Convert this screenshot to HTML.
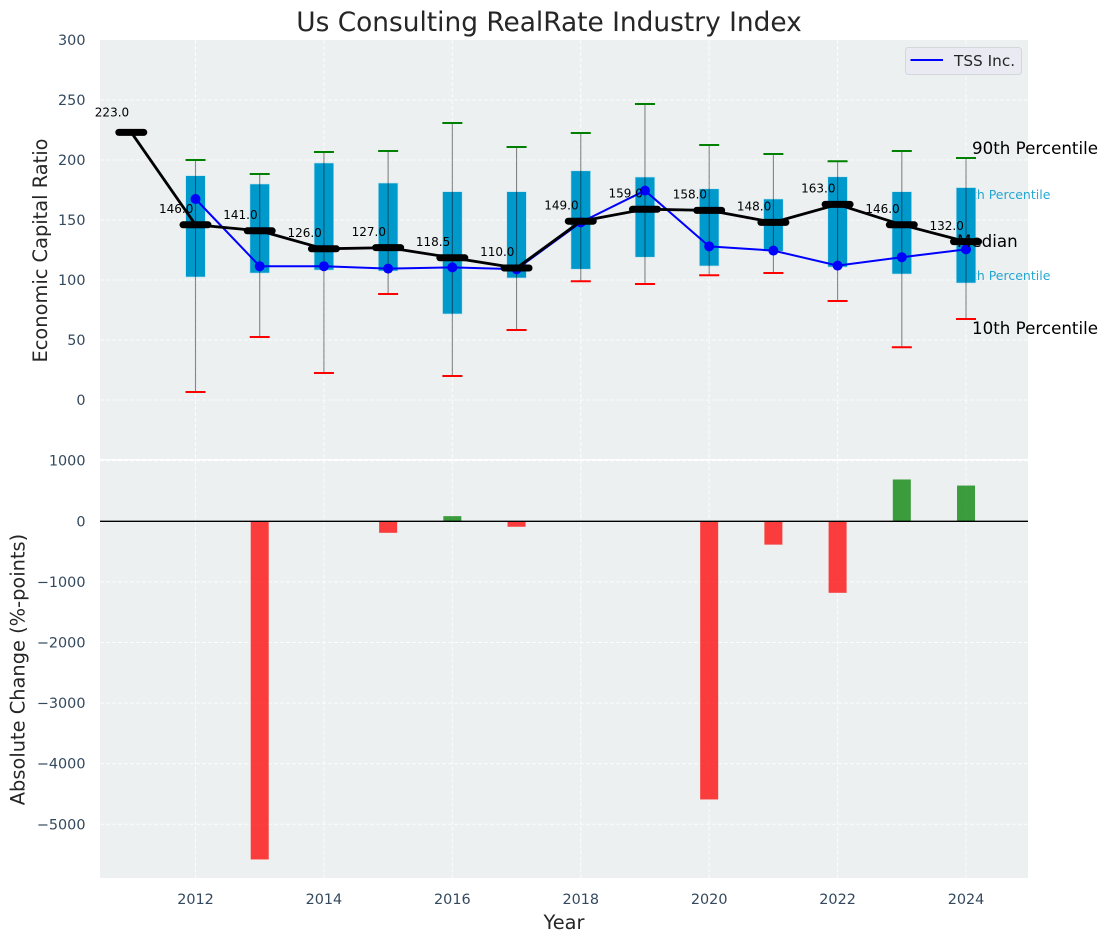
<!DOCTYPE html>
<html>
<head>
<meta charset="utf-8">
<title>Us Consulting RealRate Industry Index</title>
<style>
html,body{margin:0;padding:0;background:#fff;}
svg{display:block;font-family:"DejaVu Sans","Liberation Sans",sans-serif;}
</style>
</head>
<body>
<svg id="chart" width="1107" height="942" viewBox="0 0 1107 942" xmlns="http://www.w3.org/2000/svg">
<rect x="100" y="40" width="928" height="419" fill="#ecf0f1"/>
<rect x="100" y="460.5" width="928" height="417.5" fill="#ecf0f1"/>
<g id="layer"></g>
<text x="549" y="31" text-anchor="middle" font-size="26.4" fill="#262626">Us Consulting RealRate Industry Index</text>
<text transform="translate(47,250.5) rotate(-90)" text-anchor="middle" font-size="19.4" fill="#262626">Economic Capital Ratio</text>
<text transform="translate(24.5,669.5) rotate(-90)" text-anchor="middle" font-size="19.4" fill="#262626">Absolute Change (%-points)</text>
<text x="564" y="929" text-anchor="middle" font-size="19.4" fill="#262626">Year</text>
<g>
<rect x="905.5" y="47.5" width="116" height="27" rx="3" fill="#eaeaf2" stroke="#d5d5dc" stroke-width="1"/>
<line x1="910.5" x2="943" y1="60" y2="60" stroke="#0000ff" stroke-width="2"/>
<text x="954" y="66" font-size="15.3" fill="#262626">TSS Inc.</text>
</g>
</svg>
<script>
const years = [2012,2013,2014,2015,2016,2017,2018,2019,2020,2021,2022,2023,2024];
const p10 = [6.7,52.5,22.5,88.3,20,58.3,99,96.7,104,105.8,82.5,44,67.5];
const p25 = [102.5,105.8,108.3,107.5,71.7,101.7,109,119,111.7,124,110.8,105,97.5];
const p75 = [186.9,180,197.5,180.8,173.6,173.6,191,185.8,176,167.5,186,173.6,177];
const p90 = [200,188.3,206.7,207.5,230.8,210.8,222.5,246.7,212.5,205,199,207.5,201.7];
const medianYears = [2011,2012,2013,2014,2015,2016,2017,2018,2019,2020,2021,2022,2023,2024];
const medians = [223,146,141,126,127,118.5,110,149,159,158,148,163,146,132];
const medianLabels = ["223.0","146.0","141.0","126.0","127.0","118.5","110.0","149.0","159.0","158.0","148.0","163.0","146.0","132.0"];
const tss = [167.5,111.5,111.5,109.5,110.5,109,148,174.5,128,124.5,112,119,125.5];
const changes = [0,-5580,0,-190,85,-90,0,0,-4590,-385,-1180,690,590];
const xTicks = [2012,2014,2016,2018,2020,2022,2024];
const upperTicks = [0,50,100,150,200,250,300];
const lowerTicks = [-5000,-4000,-3000,-2000,-1000,0,1000];
const lowerTickLabels = ["\u22125000","\u22124000","\u22123000","\u22122000","\u22121000","0","1000"];

const NS = 'http://www.w3.org/2000/svg';
const layer = document.getElementById('layer');
const xScale = v => 195.5 + (v - 2012) * 64.21;
const yUpper = v => 400 - v * 1.2;
const yLower = v => 521.3 - v * 0.0606;

function make(tag, attrs, text) {
  const el = document.createElementNS(NS, tag);
  for (const k in attrs) el.setAttribute(k, attrs[k]);
  if (text !== undefined) el.textContent = text;
  layer.appendChild(el);
  return el;
}
const tickColor = '#34495e';

// grid and tick labels
xTicks.forEach(t => {
  const x = xScale(t);
  const a = make('line', {x1:x, x2:x, y1:40, y2:459, stroke:'#fff', 'stroke-width':1, 'stroke-dasharray':'4 2', opacity:0.85});
  
  
  const b = make('line', {x1:x, x2:x, y1:460.5, y2:878, stroke:'#fff', 'stroke-width':1, 'stroke-dasharray':'4 2', opacity:0.85});
  
  
  const l = make('text', {x:x, y:904, 'text-anchor':'middle', 'font-size':14.4, fill:tickColor}, String(t));
  
  
});
upperTicks.forEach(t => {
  const y = yUpper(t);
  if (t < 300) {
    const g = make('line', {x1:100, x2:1028, y1:y, y2:y, stroke:'#fff', 'stroke-width':1, 'stroke-dasharray':'4 2', opacity:0.85});
    
    
  }
  const l = make('text', {x:85.5, y:y + 5, 'text-anchor':'end', 'font-size':14.4, fill:tickColor}, String(t));
  
  
});
lowerTicks.forEach((t, i) => {
  const y = yLower(t);
  const g = make('line', {x1:100, x2:1028, y1:y, y2:y, stroke:'#fff', 'stroke-width':1, 'stroke-dasharray':'4 2', opacity:0.85});
  
  
  const l = make('text', {x:85.5, y:y + 5, 'text-anchor':'end', 'font-size':14.4, fill:tickColor}, lowerTickLabels[i]);
  
  
});

// inner percentile notes sit beneath the last box
const lastX = xScale(years[years.length - 1]);
const note75 = make('text', {x:lastX - 10, y:yUpper(p75[12]) + 11.5, 'font-size':12.5, fill:'#0099cc', opacity:0.85}, '75th Percentile');


const note25 = make('text', {x:lastX - 10, y:yUpper(p25[12]) - 3, 'font-size':12.5, fill:'#0099cc', opacity:0.85}, '25th Percentile');



// boxes, whiskers, caps
years.forEach((yr, i) => {
  const x = xScale(yr);
  const box = make('rect', {x:x - 9.8, y:yUpper(p75[i]), width:19.6, height:yUpper(p25[i]) - yUpper(p75[i]), fill:'#0099cc', stroke:'#bfe3ef', 'stroke-width':0.6});
  
  
  const w = make('line', {x1:x, x2:x, y1:yUpper(p90[i]), y2:yUpper(p10[i]), stroke:'#000', 'stroke-width':1.1, opacity:0.45});
  
  
  const hi = make('line', {x1:x - 10, x2:x + 10, y1:yUpper(p90[i]), y2:yUpper(p90[i]), stroke:'#008000', 'stroke-width':2});
  
  
  const lo = make('line', {x1:x - 10, x2:x + 10, y1:yUpper(p10[i]), y2:yUpper(p10[i]), stroke:'#ff0000', 'stroke-width':2});
  
  
});

// TSS line
const tssLine = make('polyline', {points:years.map((yr, i) => xScale(yr) + ',' + yUpper(tss[i])).join(' '), fill:'none', stroke:'#0000ff', 'stroke-width':2});


years.forEach((yr, i) => {
  const c = make('circle', {cx:xScale(yr), cy:yUpper(tss[i]), r:5, fill:'#0000ff'});
  
  
});

// median line, markers, labels
const medLine = make('polyline', {points:medianYears.map((yr, i) => xScale(yr) + ',' + yUpper(medians[i])).join(' '), fill:'none', stroke:'#000', 'stroke-width':2.8});


medianYears.forEach((yr, i) => {
  const x = xScale(yr), y = yUpper(medians[i]);
  const m = make('line', {x1:x - 12.5, x2:x + 12.5, y1:y, y2:y, stroke:'#000', 'stroke-width':7, 'stroke-linecap':'round'});
  
  
  const t = make('text', {x:x - 19.3, y:y - (i === 0 ? 16 : 11.8), 'text-anchor':'middle', 'font-size':12, fill:'#000'}, medianLabels[i]);
  
  
});

// outer percentile and median notes
const note90 = make('text', {x:lastX + 6, y:yUpper(p90[12]) - 4, 'font-size':16.7, fill:'#000'}, '90th Percentile');


const noteMed = make('text', {x:lastX - 9, y:yUpper(medians[13]) + 5.5, 'font-size':16.7, fill:'#000'}, 'Median');


const note10 = make('text', {x:lastX + 6, y:yUpper(p10[12]) + 15, 'font-size':16.7, fill:'#000'}, '10th Percentile');



// change bars
years.forEach((yr, i) => {
  const v = changes[i];
  if (v === 0) return;
  const x = xScale(yr);
  const top = Math.min(yLower(v), yLower(0));
  const bar = make('rect', {x:x - 9, y:top, width:18, height:Math.abs(yLower(v) - yLower(0)), fill:v > 0 ? '#008000' : '#ff0000', opacity:0.75});
  
  
});
const zero = make('line', {x1:100, x2:1028, y1:yLower(0), y2:yLower(0), stroke:'#000', 'stroke-width':1.4});


</script>
</body>
</html>
